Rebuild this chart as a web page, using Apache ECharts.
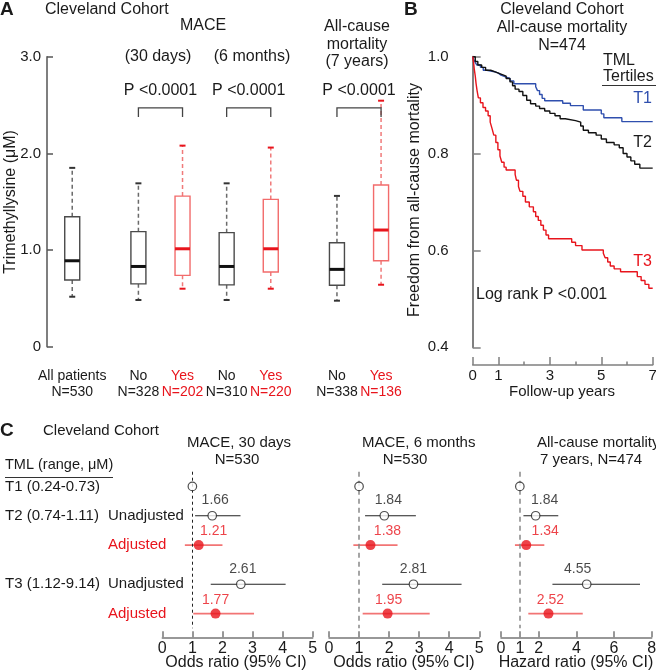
<!DOCTYPE html>
<html><head><meta charset="utf-8">
<script src="https://cdn.jsdelivr.net/npm/echarts@6/dist/echarts.min.js"></script>
<style>html,body{margin:0;padding:0;background:#fff}#c{width:656px;height:672px}</style>
</head><body><div id="c"></div>
<script>
// ===================== DATA =====================
// Panel A: TML box plots (µM)
const boxGroups  = ['All patients','No','Yes','No','Yes','No','Yes'];
const boxN       = ['N=530','N=328','N=202','N=310','N=220','N=338','N=136'];
const boxOutcome = [0,0,1,0,1,0,1];            // 1 = event group
const boxMin = [0.517,0.483,0.600,0.483,0.600,0.476,0.641];
const boxQ1  = [0.690,0.650,0.738,0.640,0.772,0.635,0.889];
const boxMed = [0.889,0.830,1.013,0.830,1.013,0.800,1.207];
const boxQ3  = [1.344,1.190,1.558,1.180,1.524,1.075,1.672];
const boxMax = [1.850,1.690,2.080,1.690,2.060,1.560,2.545];
const pValues = ['P <0.0001','P <0.0001','P <0.0001'];
const yTicksA = [0,1,2,3];

// Panel B: Kaplan-Meier, [years, survival]
const kmT1 = [[0,1.0],[0.05,0.993],[0.1,0.988],[0.16,0.983],[0.3,0.978],[0.41,0.972],[0.55,0.969],[0.85,0.966],[1.0,0.962],[1.1,0.958],[1.3,0.955],[1.45,0.95],[1.6,0.944],[2.45,0.938],[2.52,0.93],[2.6,0.922],[2.7,0.914],[2.8,0.909],[3.5,0.904],[3.8,0.899],[4.3,0.89],[5.0,0.882],[5.1,0.874],[5.8,0.866],[7.0,0.866]];
const kmT2 = [[0,1.0],[0.1,0.99],[0.2,0.983],[0.35,0.978],[0.5,0.972],[0.7,0.968],[0.9,0.964],[1.1,0.96],[1.3,0.955],[1.45,0.948],[1.55,0.94],[1.65,0.933],[1.8,0.928],[1.95,0.92],[2.1,0.91],[2.25,0.903],[2.45,0.898],[2.6,0.893],[2.8,0.888],[3.0,0.883],[3.2,0.878],[3.4,0.872],[3.6,0.868],[4.0,0.865],[4.2,0.857],[4.3,0.848],[4.5,0.843],[4.8,0.838],[5.0,0.83],[5.2,0.823],[5.5,0.818],[5.7,0.812],[5.85,0.8],[6.0,0.793],[6.15,0.785],[6.3,0.778],[6.5,0.77],[7.0,0.77]];
const kmT3 = [[0,1.0],[0.03,0.99],[0.06,0.975],[0.1,0.96],[0.13,0.945],[0.17,0.93],[0.22,0.915],[0.3,0.905],[0.4,0.895],[0.5,0.888],[0.6,0.878],[0.68,0.865],[0.75,0.852],[0.82,0.838],[0.9,0.823],[0.98,0.808],[1.06,0.795],[1.13,0.782],[1.22,0.772],[1.3,0.766],[1.65,0.757],[1.7,0.745],[1.78,0.732],[1.84,0.722],[1.95,0.712],[2.05,0.7],[2.2,0.69],[2.36,0.68],[2.45,0.67],[2.55,0.662],[2.65,0.652],[2.75,0.642],[2.85,0.632],[2.95,0.624],[3.85,0.617],[4.0,0.61],[4.25,0.601],[5.08,0.594],[5.15,0.585],[5.25,0.576],[5.35,0.568],[5.5,0.562],[5.75,0.556],[6.4,0.546],[6.55,0.538],[6.7,0.53],[6.85,0.522],[7.0,0.522]];
const kmXLabels = [0,1,3,5,7];
const kmYTicks = [0.4,0.6,0.8,1.0];

// Panel C: forest plots (order: T2 unadj, T2 adj, T3 unadj, T3 adj)
const tertileLabels = ['T1 (0.24-0.73)','T2 (0.74-1.11)','T3 (1.12-9.14)'];
const modelLabels = ['Unadjusted','Adjusted'];
const mace30Est = [1.66,1.21,2.61,1.77];
const mace30Lo  = [1.09,0.75,1.61,1.03];
const mace30Hi  = [2.60,2.00,4.10,3.05];
const mace6Est  = [1.84,1.38,2.81,1.95];
const mace6Lo   = [1.20,0.81,1.77,1.12];
const mace6Hi   = [2.89,2.28,4.41,3.35];
const mortEst   = [1.84,1.34,4.55,2.52];
const mortLo    = [1.19,0.74,2.73,1.45];
const mortHi    = [3.04,2.30,7.38,4.34];
const orTicks = [0,1,2,3,4,5];
const hrTicks = [0,1,2,4,6,8];

// ===================== LAYOUT / STYLE =====================
const F = '"Liberation Sans", Arial, Helvetica, sans-serif';
const BLACK = '#1a1a1a', RED = '#e8141c', BLUE = '#2f4fae', PINK = '#f27474';
const boxSlot = [0,3,5,7,9,12,14];
const bracketPairs = [[3,5],[7,9],[12,14]];
const bracketLevel = 2.47;
const rowSlot = [1,4,7,11,14];
const FT = 471.7, FH = 156.6, NSLOT = 16;
const slotY = s => FT + (s + 0.5) * FH / NSLOT;
const labelShift = [[3,15,2,0],[4,17,0,1],[9,19,-9,2]];

const catA = Array.from({length:15},(_,i)=>String(i));
const labelA = {};
boxGroups.forEach((g,i)=>{
  const t = boxOutcome[i] ? 'r' : 'k';
  labelA[boxSlot[i]] = `{${t}|${g}}\n{${t}|${boxN[i]}}`;
});
const catF = Array.from({length:NSLOT},(_,i)=>String(i));

const boxData = boxGroups.map((g,i)=>[boxSlot[i], boxMin[i], boxQ1[i], boxMed[i], boxQ3[i], boxMax[i], boxOutcome[i]]);

function renderBox(params, api){
  const s = api.value(0);
  const x = api.coord([s,0])[0];
  const y = k => api.coord([s, api.value(k)])[1];
  const yMin=y(1), yQ1=y(2), yMed=y(3), yQ3=y(4), yMax=y(5);
  const red = api.value(6) === 1;
  const hw = 7.5, cw = 3;
  const whisk = red ? '#f07a7a' : '#6a6a6a';
  const cap = red ? RED : '#333';
  return {type:'group', children:[
    {type:'line', shape:{x1:x,y1:yQ3,x2:x,y2:yMax}, style:{stroke:whisk,lineWidth:1.5,lineDash:[4,3]}},
    {type:'line', shape:{x1:x,y1:yQ1,x2:x,y2:yMin}, style:{stroke:whisk,lineWidth:1.5,lineDash:[4,3]}},
    {type:'line', shape:{x1:x-cw,y1:yMax,x2:x+cw,y2:yMax}, style:{stroke:cap,lineWidth:2}},
    {type:'line', shape:{x1:x-cw,y1:yMin,x2:x+cw,y2:yMin}, style:{stroke:cap,lineWidth:2}},
    {type:'rect', shape:{x:x-hw,y:yQ3,width:2*hw,height:yQ1-yQ3}, style:{fill:'#fff',stroke:red?'#f26b6b':'#4a4a4a',lineWidth:1.4}},
    {type:'line', shape:{x1:x-hw,y1:yMed,x2:x+hw,y2:yMed}, style:{stroke:red?RED:'#111',lineWidth:3}}
  ]};
}
function renderBracket(params, api){
  const a = api.coord([api.value(0), api.value(2)]);
  const b = api.coord([api.value(1), api.value(2)]);
  const leg = 9;
  return {type:'group', children:[
    {type:'polyline', shape:{points:[[a[0],a[1]+leg],[a[0],a[1]],[b[0],b[1]],[b[0],b[1]+leg]]}, style:{stroke:'#444',lineWidth:1.3,fill:null}},
    {type:'text', style:{text:pValues[api.value(3)], x:(a[0]+b[0])/2, y:a[1]-17, align:'center', verticalAlign:'middle', fill:BLACK, font:'16px '+F}}
  ]};
}
function renderCI(params, api){
  const slot = api.value(2);
  const p1 = api.coord([api.value(0), slot]);
  const p2 = api.coord([api.value(1), slot]);
  const adj = api.value(3) === 1;
  return {type:'line', shape:{x1:p1[0],y1:p1[1],x2:p2[0],y2:p2[1]}, style:{stroke:adj?PINK:'#222', lineWidth:adj?1.8:1.1}};
}
function ciData(lo, hi){ return lo.map((v,i)=>[v, hi[i], rowSlot[i+1], i%2]); }
function ptData(est, shift){
  const open = {color:'#fff', borderColor:'#222', borderWidth:1.2};
  const pts = [{value:[1,rowSlot[0]], symbolSize:8.5, itemStyle:open, label:{show:false}}];
  est.forEach((v,i)=>{
    const adj = i%2===1;
    pts.push({value:[v,rowSlot[i+1]], symbolSize:adj?10:8.5,
      itemStyle: adj ? {color:RED, borderColor:RED, borderWidth:0} : open,
      label:{show:true, position:'inside', formatter:v.toFixed(2), offset:[shift[i], adj?-13.5:-15.5], color:adj?RED:BLACK, fontSize:14, fontFamily:F}});
  });
  return pts;
}

const axLabel = {color:BLACK, fontFamily:F};
function forestX(grid, max, ticks){
  return {type:'value', gridIndex:grid, position:'bottom', min:0, max:max, interval:1, offset:9,
    axisLine:{show:true, lineStyle:{color:'#777', width:1.5}},
    axisTick:{show:true, inside:true, length:6, lineStyle:{color:'#777', width:1.5}, customValues:ticks},
    axisLabel:Object.assign({fontSize:16, margin:3, customValues:ticks}, axLabel),
    splitLine:{show:false}};
}
function forestY(grid){
  return {type:'category', gridIndex:grid, data:catF, inverse:true, boundaryGap:true, show:false};
}
function forestScatter(idx, est, shift, dash){
  return {type:'scatter', xAxisIndex:3+idx, yAxisIndex:2+idx, z:5, symbol:'circle', data:ptData(est, shift),
    markLine:{silent:true, symbol:['none','none'], label:{show:false}, animation:false,
      lineStyle:dash, data:[{xAxis:1}]}};
}

const G = (l,t,w,h)=>({left:l, top:t, width:w, height:h, outerBoundsMode:'none', containLabel:false});

const option = {
  animation:false,
  backgroundColor:'#fff',
  textStyle:{fontFamily:F},
  grid:[ G(61.2,56.7,330.9,290), G(472.7,56.7,180,290.6), G(162.3,FT,150.4,FH), G(329,FT,150.3,FH), G(501,FT,150.7,FH) ],
  xAxis:[
    {type:'category', gridIndex:0, position:'bottom', data:catA, boundaryGap:true,
      axisLine:{show:false}, axisTick:{show:false},
      axisLabel:{interval:0, margin:22, formatter:(v,i)=>labelA[i]||'',
        rich:{k:{color:BLACK, fontSize:14, lineHeight:15.5, fontFamily:F}, r:{color:RED, fontSize:14, lineHeight:15.5, fontFamily:F}}}},
    {type:'value', gridIndex:1, position:'bottom', min:0, max:7, interval:1, offset:17.7,
      axisLine:{show:true, lineStyle:{color:'#808080', width:1.5}},
      axisTick:{show:true, inside:true, length:8, lineStyle:{color:'#808080', width:1.5}, customValues:kmXLabels},
      axisLabel:Object.assign({fontSize:15, margin:3, customValues:kmXLabels}, axLabel),
      splitLine:{show:false}},
    {type:'value', gridIndex:1, position:'bottom', min:0, max:7, interval:1, offset:17.7,
      axisLine:{show:false}, axisLabel:{show:false}, splitLine:{show:false},
      axisTick:{show:true, inside:true, length:3.5, lineStyle:{color:'#808080', width:1.5}}},
    forestX(2,5,orTicks), forestX(3,5,orTicks), forestX(4,8,hrTicks)
  ],
  yAxis:[
    {type:'value', gridIndex:0, position:'left', min:0, max:3, interval:1, offset:14.2,
      axisLine:{show:true, lineStyle:{color:'#555', width:1.5}},
      axisTick:{show:true, inside:true, length:6, lineStyle:{color:'#555', width:1.5}},
      axisLabel:Object.assign({fontSize:15, margin:6, customValues:yTicksA, formatter:v=>v===0?'0':v.toFixed(1)}, axLabel),
      splitLine:{show:false}},
    {type:'value', gridIndex:1, position:'left', min:0.4, max:1.0, interval:0.2, offset:20,
      axisLine:{show:true, lineStyle:{color:'#808080', width:2}},
      axisTick:{show:true, inside:true, length:8, lineStyle:{color:'#808080', width:1.5}},
      axisLabel:Object.assign({fontSize:15, margin:4, formatter:v=>v.toFixed(1)}, axLabel),
      splitLine:{show:false}},
    forestY(2), forestY(3), forestY(4)
  ],
  series:[
    {type:'custom', xAxisIndex:0, yAxisIndex:0, renderItem:renderBox, data:boxData, encode:{x:0, y:[1,2,3,4,5]}, clip:false},
    {type:'custom', xAxisIndex:0, yAxisIndex:0, renderItem:renderBracket,
      data:bracketPairs.map((p,i)=>[p[0],p[1],bracketLevel,i]), encode:{x:[0,1], y:2}, clip:false},
    {type:'line', xAxisIndex:1, yAxisIndex:1, data:kmT1, step:'end', showSymbol:false, symbol:'none', lineStyle:{color:BLUE, width:1.4}, z:3},
    {type:'line', xAxisIndex:1, yAxisIndex:1, data:kmT2, step:'end', showSymbol:false, symbol:'none', lineStyle:{color:'#111', width:1.4}, z:4},
    {type:'line', xAxisIndex:1, yAxisIndex:1, data:kmT3, step:'end', showSymbol:false, symbol:'none', lineStyle:{color:RED, width:1.4}, z:5},
    {type:'custom', xAxisIndex:3, yAxisIndex:2, renderItem:renderCI, data:ciData(mace30Lo,mace30Hi), encode:{x:[0,1], y:2}, clip:false},
    {type:'custom', xAxisIndex:4, yAxisIndex:3, renderItem:renderCI, data:ciData(mace6Lo,mace6Hi), encode:{x:[0,1], y:2}, clip:false},
    {type:'custom', xAxisIndex:5, yAxisIndex:4, renderItem:renderCI, data:ciData(mortLo,mortHi), encode:{x:[0,1], y:2}, clip:false},
    forestScatter(0, mace30Est, labelShift[0], {color:'#222', width:1, type:[3,3]}),
    forestScatter(1, mace6Est, labelShift[1], {color:'#888', width:1.5, type:[5,4]}),
    forestScatter(2, mortEst, labelShift[2], {color:'#888', width:1.5, type:[5,4]})
  ],
  graphic:[]
};

function txt(x, y, s, o){
  o = o || {};
  return {type:'text', x:x, y:y, rotation:o.rot||0, silent:true, z:100,
    style:{text:s, fill:o.color||BLACK, font:(o.bold?'bold ':'')+(o.size||16)+'px '+F, align:o.align||'left', verticalAlign:'middle'}};
}
function hline(x1,x2,y,c){ return {type:'line', silent:true, z:100, shape:{x1:x1,y1:y,x2:x2,y2:y}, style:{stroke:c||'#333', lineWidth:1}}; }

const gr = [
  // Panel A
  txt(0,9.5,'A',{bold:true,size:19}),
  txt(45,9.5,'Cleveland Cohort'),
  txt(203,26,'MACE',{align:'center'}),
  txt(158,57,'(30 days)',{align:'center'}),
  txt(252,57,'(6 months)',{align:'center'}),
  txt(357,27,'All-cause',{align:'center'}),
  txt(357,44.5,'mortality',{align:'center'}),
  txt(357,62,'(7 years)',{align:'center'}),
  txt(11,202,'Trimethyllysine (μM)',{align:'center', rot:Math.PI/2}),
  // Panel B
  txt(404,9.5,'B',{bold:true,size:19}),
  txt(562,9.5,'Cleveland Cohort',{align:'center'}),
  txt(562,27.5,'All-cause mortality',{align:'center'}),
  txt(562,46,'N=474',{align:'center'}),
  txt(603,61,'TML'),
  txt(603,77,'Tertiles'),
  hline(602,656,85.5),
  txt(652,99,'T1',{align:'right',color:BLUE}),
  txt(652,143,'T2',{align:'right'}),
  txt(652,262,'T3',{align:'right',color:RED}),
  txt(476,295,'Log rank P <0.001'),
  txt(415,200,'Freedom from all-cause mortality',{align:'center', rot:Math.PI/2}),
  txt(562,391.5,'Follow-up years',{align:'center',size:15}),
  // Panel C
  txt(0,431,'C',{bold:true,size:19}),
  txt(43,431,'Cleveland Cohort',{size:15}),
  txt(5,465,'TML (range, μM)',{size:14.5}),
  hline(5,113,477.5),
  txt(239,443,'MACE, 30 days',{align:'center',size:15}),
  txt(237,460,'N=530',{align:'center',size:15}),
  txt(418.7,443,'MACE, 6 months',{align:'center',size:15}),
  txt(405,460,'N=530',{align:'center',size:15}),
  txt(537,443,'All-cause mortality',{size:15}),
  txt(540,460,'7 years, N=474',{size:15}),
  txt(236,663,'Odds ratio (95% CI)',{align:'center'}),
  txt(404,663,'Odds ratio (95% CI)',{align:'center'}),
  txt(576,663,'Hazard ratio (95% CI)',{align:'center'})
];
gr.push(txt(5, slotY(rowSlot[0]), tertileLabels[0], {size:15}));
gr.push(txt(5, slotY(rowSlot[1]), tertileLabels[1], {size:15}));
gr.push(txt(5, slotY(rowSlot[3]), tertileLabels[2], {size:15}));
[1,2,3,4].forEach(r=>{
  const adj = (r%2===0);
  gr.push(txt(108, slotY(rowSlot[r]), modelLabels[adj?1:0], {size:15, color:adj?RED:BLACK}));
});
option.graphic = gr;

const chart = echarts.init(document.getElementById('c'), null, {renderer:'canvas'});
chart.setOption(option);
</script>
</body></html>
